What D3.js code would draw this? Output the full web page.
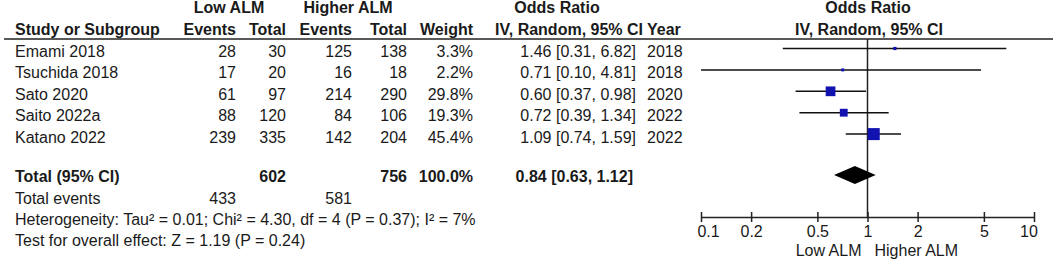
<!DOCTYPE html>
<html>
<head>
<meta charset="utf-8">
<script src="https://cdn.jsdelivr.net/npm/d3@7"></script>
<style>
  body { margin: 0; background: #fff; }
  svg { display: block; font-family: "Liberation Sans", Arial, sans-serif; font-size: 16px; fill: #1a1a1a; }
  .b { font-weight: bold; }
</style>
</head>
<body>
<div id="chart"></div>
<script>
// data
const studies = ['Emami 2018', 'Tsuchida 2018', 'Sato 2020', 'Saito 2022a', 'Katano 2022'];
const lowEvents = [28, 17, 61, 88, 239];
const lowTotal = [30, 20, 97, 120, 335];
const highEvents = [125, 16, 214, 84, 142];
const highTotal = [138, 18, 290, 106, 204];
const weights = [3.3, 2.2, 29.8, 19.3, 45.4];
const oddsRatio = [1.46, 0.71, 0.60, 0.72, 1.09];
const ciLow = [0.31, 0.10, 0.37, 0.39, 0.74];
const ciHigh = [6.82, 4.81, 0.98, 1.34, 1.59];
const years = [2018, 2018, 2020, 2022, 2022];
const pooled = [0.84, 0.63, 1.12];
const totals = [602, 756, '100.0%'];
const totalEvents = [433, 581];
const axisTicks = [0.1, 0.2, 0.5, 1, 2, 5, 10];
const heterogeneity = 'Heterogeneity: Tau² = 0.01; Chi² = 4.30, df = 4 (P = 0.37); I² = 7%';
const overallTest = 'Test for overall effect: Z = 1.19 (P = 0.24)';
const favours = ['Low ALM', 'Higher ALM'];

const W = 1053, H = 261;
const f2 = d3.format('.2f');
const f1 = d3.format('.1f');

const svg = d3.select('#chart').append('svg')
    .attr('width', W)
    .attr('height', H);

const x = d3.scaleLog().domain([0.1, 10]).range([701, 1034]);
const rowY = d3.scaleLinear().domain([0, studies.length - 1]).range([57, 142.6]);
const boxSize = d3.scaleSqrt().domain([0, 45.4]).range([0, 12]);

// column right edges
const col = { ev1: 236, tot1: 286, ev2: 352, tot2: 407, wt: 473, or: 636, year: 647 };

function txt(xp, yp, s, anchor, bold) {
  svg.append('text')
      .attr('x', xp).attr('y', yp)
      .attr('text-anchor', anchor || 'start')
      .attr('class', bold ? 'b' : null)
      .text(s);
}

// headers
txt(229, 13, 'Low ALM', 'middle', true);
txt(348, 13, 'Higher ALM', 'middle', true);
txt(557, 13, 'Odds Ratio', 'middle', true);
txt(868, 13, 'Odds Ratio', 'middle', true);
txt(15, 35, 'Study or Subgroup', 'start', true);
txt(col.ev1, 35, 'Events', 'end', true);
txt(col.tot1, 35, 'Total', 'end', true);
txt(col.ev2, 35, 'Events', 'end', true);
txt(col.tot2, 35, 'Total', 'end', true);
txt(col.wt, 35, 'Weight', 'end', true);
txt(643, 35, 'IV, Random, 95% CI', 'end', true);
txt(col.year, 35, 'Year', 'start', true);
txt(869, 35, 'IV, Random, 95% CI', 'middle', true);

svg.append('line')
    .attr('x1', 4).attr('x2', W)
    .attr('y1', 39).attr('y2', 39)
    .attr('stroke', '#222').attr('stroke-width', 1.5);

// study rows
studies.forEach((s, i) => {
  const y = rowY(i);
  txt(15, y, s);
  txt(col.ev1, y, lowEvents[i], 'end');
  txt(col.tot1, y, lowTotal[i], 'end');
  txt(col.ev2, y, highEvents[i], 'end');
  txt(col.tot2, y, highTotal[i], 'end');
  txt(col.wt, y, f1(weights[i]) + '%', 'end');
  txt(col.or, y, `${f2(oddsRatio[i])} [${f2(ciLow[i])}, ${f2(ciHigh[i])}]`, 'end');
  txt(col.year, y, years[i]);
});

// total rows
const yTot = 182;
txt(15, yTot, 'Total (95% CI)', 'start', true);
txt(col.tot1, yTot, totals[0], 'end', true);
txt(col.tot2, yTot, totals[1], 'end', true);
txt(col.wt, yTot, totals[2], 'end', true);
txt(633, yTot, `${f2(pooled[0])} [${f2(pooled[1])}, ${f2(pooled[2])}]`, 'end', true);
txt(15, 203.5, 'Total events');
txt(col.ev1, 203.5, totalEvents[0], 'end');
txt(col.ev2, 203.5, totalEvents[1], 'end');
txt(15, 225, heterogeneity);
txt(15, 246, overallTest);

// forest plot
const axisY = 217;
svg.append('line')
    .attr('x1', x(1)).attr('x2', x(1))
    .attr('y1', 39).attr('y2', axisY)
    .attr('stroke', '#222').attr('stroke-width', 1.5);

const marks = svg.append('g');
studies.forEach((s, i) => {
  const y = rowY(i) - 8.5;
  marks.append('line')
      .attr('x1', x(ciLow[i])).attr('x2', x(ciHigh[i]))
      .attr('y1', y).attr('y2', y)
      .attr('stroke', '#111').attr('stroke-width', 1.5);
  const s2 = Math.max(boxSize(weights[i]), 3);
  marks.append('rect')
      .attr('x', x(oddsRatio[i]) - s2 / 2)
      .attr('y', y - s2 / 2)
      .attr('width', s2).attr('height', s2)
      .attr('fill', '#1212b0');
});

const dy = 175;
svg.append('path')
    .attr('d', `M${x(pooled[1])},${dy} L${x(pooled[0])},${dy - 9} L${x(pooled[2])},${dy} L${x(pooled[0])},${dy + 9} Z`)
    .attr('fill', '#000');

// axis
const ax = svg.append('g')
    .attr('transform', `translate(0,${axisY})`)
    .call(d3.axisBottom(x).tickValues(axisTicks).tickFormat(d3.format('~g')).tickSizeOuter(0));
ax.select('.domain').attr('stroke', '#222').attr('stroke-width', 1.5);
ax.selectAll('.tick line').attr('y1', -5).attr('y2', 5).attr('stroke', '#222').attr('stroke-width', 1.5);
ax.selectAll('.tick text')
    .attr('y', 20).attr('dy', 0)
    .attr('font-family', 'Liberation Sans, Arial, sans-serif')
    .attr('font-size', 16).attr('fill', '#1a1a1a');
ax.selectAll('.tick text').filter(d => d === 0.1).attr('dx', 7);
ax.selectAll('.tick text').filter(d => d === 10).attr('dx', -5.5);

txt(x(1) - 6, 256, favours[0], 'end');
txt(x(1) + 7, 256, favours[1], 'start');
</script>
</body>
</html>
